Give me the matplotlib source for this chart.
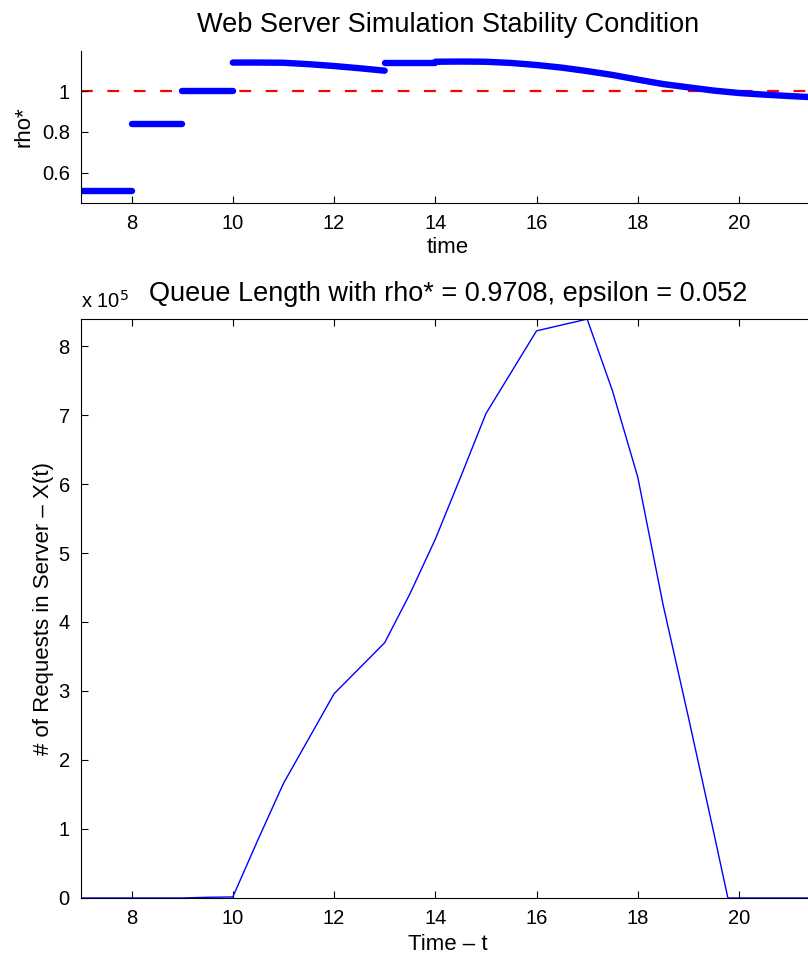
# Web server simulation: stability condition (rho*) and queue length X(t)
import matplotlib
matplotlib.use("Agg")
import matplotlib.pyplot as plt
from matplotlib.ticker import FuncFormatter

plt.rcParams['font.family'] = ['Liberation Sans', 'DejaVu Sans']
plt.rcParams['font.size'] = 14.5
plt.rcParams['lines.scale_dashes'] = False

# rho* over time, drawn as separate pieces (one list per piece)
rho_times = [
    [7, 8],
    [8, 9],
    [9, 10],
    [10, 10.5, 11, 11.5, 12, 12.5, 13],
    [13, 14],
    [14, 14.5, 15, 15.5, 16, 16.5, 17, 17.5, 18, 18.5, 19, 19.5, 20, 20.5, 21, 21.5],
]
rho_values = [
    [0.51, 0.51],
    [0.84, 0.84],
    [1.0, 1.0],
    [1.142, 1.142, 1.141, 1.134, 1.125, 1.114, 1.102],
    [1.138, 1.138],
    [1.146, 1.147, 1.146, 1.140, 1.130, 1.117, 1.100, 1.081, 1.058, 1.036, 1.020, 1.004, 0.992, 0.984, 0.977, 0.9708],
]
rho_limit = 1.0

# queue length X(t)
q_time = [7, 9, 9.5, 10, 10.5, 11, 11.5, 12, 12.5, 13, 13.5, 14, 14.5, 15, 15.5,
          16, 17, 17.5, 18, 18.5, 19, 19.5, 19.78, 20, 21.5]
q_len = [0, 0, 1000, 1500, 85000, 166000, 231000, 296000, 333000, 370000, 441000,
         520000, 610000, 702000, 762000, 822000, 839000, 735000, 610000, 425000,
         262000, 95000, 0, 0, 0]

xticks = [8, 10, 12, 14, 16, 18, 20]

fig = plt.figure(figsize=(8.08, 9.6), dpi=100)

# ---- top: stability condition
ax1 = fig.add_axes([0.1002, 0.7885, 0.9084, 0.1586])
for tt, rr in zip(rho_times, rho_values):
    ax1.plot(tt, rr, color='#0000ff', lw=4.6, solid_capstyle='round')
ax1.axhline(rho_limit, color='#ff0000', lw=1.6, dashes=(8.5, 10.5), zorder=1)
ax1.set_xlim(7, 21.5)
ax1.set_ylim(0.45, 1.2)
ax1.set_xticks(xticks)
ax1.set_yticks([0.6, 0.8, 1.0])
ax1.set_yticklabels(['0.6', '0.8', '1'])
ax1.spines['top'].set_visible(False)
ax1.spines['right'].set_visible(False)
ax1.tick_params(direction='in', length=5, width=0.8, pad=8)
ax1.set_xlabel('time', fontsize=16, labelpad=3)
ax1.set_ylabel('rho*', fontsize=16, labelpad=5)
ax1.set_title('Web Server Simulation Stability Condition', fontsize=19.5, pad=13.6)

# ---- bottom: queue length
ax2 = fig.add_axes([0.1002, 0.0646, 0.9084, 0.603])
ax2.plot(q_time, q_len, color='#0000ff', lw=1.0)
ax2.set_xlim(7, 21.5)
ax2.set_ylim(0, 839000)
ax2.set_xticks(xticks)
ax2.set_yticks([k * 1e5 for k in range(9)])
ax2.yaxis.set_major_formatter(FuncFormatter(lambda v, p: f"{v / 1e5:g}"))
ax2.tick_params(direction='in', length=5, width=0.8, pad=8, top=True, right=True)
ax2.set_xlabel('Time \u2013 t', fontsize=16, labelpad=4)
ax2.set_ylabel('# of Requests in Server \u2013 X(t)', fontsize=16, labelpad=3)
ax2.set_title('Queue Length with rho* = 0.9708, epsilon = 0.052', fontsize=19.5,
              pad=13.1)
ax2.text(0.0, 1.012, 'x 10$^{5}$', transform=ax2.transAxes, ha='left', va='bottom')

fig.savefig('out.png', dpi=100)
